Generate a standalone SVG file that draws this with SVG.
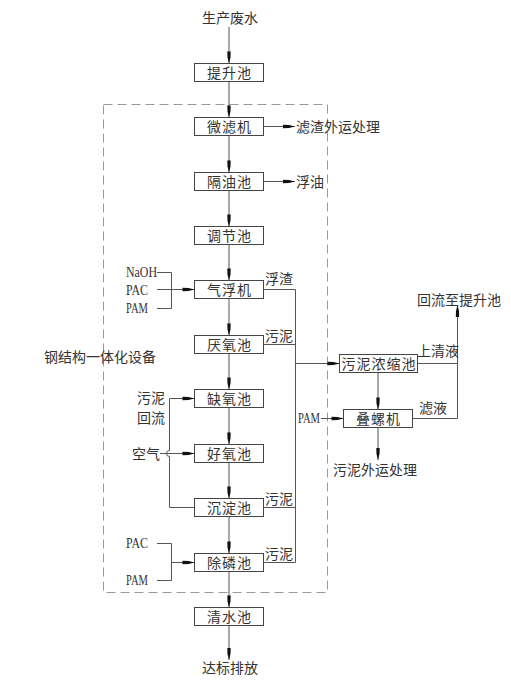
<svg xmlns="http://www.w3.org/2000/svg" width="511" height="682" viewBox="0 0 511 682">
<style>
.box{fill:#fff;stroke:#444;stroke-width:1}
.ln{fill:none;stroke:#555;stroke-width:1}
.ar{marker-end:url(#ah)}
.cj{font-family:"Noto Sans CJK SC","Noto Sans CJK JP",sans-serif;font-size:14px;fill:#333}
.bt{text-anchor:middle;letter-spacing:1px}
.lt{font-family:"Liberation Serif",serif;font-size:14px;fill:#333}
.dash{fill:none;stroke:#999;stroke-width:1;stroke-dasharray:9 5}
</style>
<defs>
<marker id="ah" markerUnits="userSpaceOnUse" markerWidth="14" markerHeight="6" viewBox="-13 -3 14 6" refX="0" refY="0" orient="auto">
<path d="M-12,-1.7 L-6,-1.5 L0,0 L-6,1.5 L-12,1.7 Z" fill="#111"/>
</marker>
</defs>
<rect class="dash" x="103.5" y="104.5" width="224" height="488"/>
<g id="connectors">
<path class="ln ar" d="M229,27 V63.5"/>
<path class="ln ar" d="M229,81.5 V117.5"/>
<path class="ln ar" d="M229,135.5 V172.5"/>
<path class="ln ar" d="M229,190.5 V226.5"/>
<path class="ln ar" d="M229,244.5 V280.5"/>
<path class="ln ar" d="M229,298.5 V335.5"/>
<path class="ln ar" d="M229,353.5 V389.5"/>
<path class="ln ar" d="M229,407.5 V444.5"/>
<path class="ln ar" d="M229,462.5 V498.5"/>
<path class="ln ar" d="M229,516.5 V553.5"/>
<path class="ln ar" d="M229,571.5 V607.5"/>
<path class="ln ar" d="M229,625.5 V660"/>
<path class="ln ar" d="M263.5,126.5 H295"/>
<path class="ln ar" d="M263.5,181.5 H295"/>
<path class="ln" d="M263.5,289.5 H295.5 V562.5 H263.5"/>
<path class="ln" d="M263.5,344.5 H295.5"/>
<path class="ln" d="M263.5,507.5 H295.5"/>
<path class="ln ar" d="M295.5,363.5 H339.5"/>
<path class="ln" d="M417.5,363.5 H457.5"/>
<path class="ln ar" d="M457.5,418.5 V305"/>
<path class="ln" d="M412.5,418.5 H457.5"/>
<path class="ln ar" d="M378,372.5 V409.5"/>
<path class="ln ar" d="M378,427.5 V460"/>
<path class="ln ar" d="M321,418.5 H343.5"/>
<path class="ln" d="M157,272.5 H171.5 V308.5 H157"/>
<path class="ln ar" d="M157,289.5 H194.5"/>
<path class="ln" d="M194.5,507.5 H169.5 V456.5 A3,3 0 0 1 169.5,450.5 V398.5"/>
<path class="ln ar" d="M169.5,398.5 H194.5"/>
<path class="ln ar" d="M160,453.5 H194.5"/>
<path class="ln" d="M157,543.5 H171.5 V580.5 H157"/>
<path class="ln ar" d="M171.5,562.5 H194.5"/>
</g>
<g id="n_tisheng"><rect class="box" x="194.5" y="63.5" width="69" height="18"/><text class="cj bt" x="229.5" y="77.8">提升池</text></g>
<g id="n_weilv"><rect class="box" x="194.5" y="117.5" width="69" height="18"/><text class="cj bt" x="229.5" y="131.8">微滤机</text></g>
<g id="n_geyou"><rect class="box" x="194.5" y="172.5" width="69" height="18"/><text class="cj bt" x="229.5" y="186.8">隔油池</text></g>
<g id="n_tiaojie"><rect class="box" x="194.5" y="226.5" width="69" height="18"/><text class="cj bt" x="229.5" y="240.8">调节池</text></g>
<g id="n_qifu"><rect class="box" x="194.5" y="280.5" width="69" height="18"/><text class="cj bt" x="229.5" y="294.8">气浮机</text></g>
<g id="n_yanyang"><rect class="box" x="194.5" y="335.5" width="69" height="18"/><text class="cj bt" x="229.5" y="349.8">厌氧池</text></g>
<g id="n_queyang"><rect class="box" x="194.5" y="389.5" width="69" height="18"/><text class="cj bt" x="229.5" y="403.8">缺氧池</text></g>
<g id="n_haoyang"><rect class="box" x="194.5" y="444.5" width="69" height="18"/><text class="cj bt" x="229.5" y="458.8">好氧池</text></g>
<g id="n_chendian"><rect class="box" x="194.5" y="498.5" width="69" height="18"/><text class="cj bt" x="229.5" y="512.8">沉淀池</text></g>
<g id="n_chulin"><rect class="box" x="194.5" y="553.5" width="69" height="18"/><text class="cj bt" x="229.5" y="567.8">除磷池</text></g>
<g id="n_qingshui"><rect class="box" x="194.5" y="607.5" width="69" height="18"/><text class="cj bt" x="229.5" y="621.8">清水池</text></g>
<g id="n_nongsuo"><rect class="box" x="339.5" y="354.5" width="78" height="18"/><text class="cj bt" x="379" y="368.8">污泥浓缩池</text></g>
<g id="n_dieluo"><rect class="box" x="343.5" y="409.5" width="69" height="18"/><text class="cj bt" x="378.5" y="423.8">叠螺机</text></g>
<g id="labels">
<text class="cj" x="202" y="23.3">生产废水</text>
<text class="cj" x="202" y="673.3">达标排放</text>
<text class="cj" x="296" y="131.8">滤渣外运处理</text>
<text class="cj" x="296" y="186.8">浮油</text>
<text class="cj" x="265" y="284.3">浮渣</text>
<text class="cj" x="265" y="341.3">污泥</text>
<text class="cj" x="265" y="504.3">污泥</text>
<text class="cj" x="265" y="559.3">污泥</text>
<text class="cj" x="44" y="362.3">钢结构一体化设备</text>
<text class="cj" x="137" y="403">污泥</text>
<text class="cj" x="137" y="423">回流</text>
<text class="cj" x="132" y="458.8">空气</text>
<text class="cj" x="417" y="305.3">回流至提升池</text>
<text class="cj" x="417" y="356.3">上清液</text>
<text class="cj" x="419" y="413.3">滤液</text>
<text class="cj" x="333" y="475.3">污泥外运处理</text>
<text class="lt" x="126" y="277" textLength="31" lengthAdjust="spacingAndGlyphs">NaOH</text>
<text class="lt" x="126" y="295" textLength="22" lengthAdjust="spacingAndGlyphs">PAC</text>
<text class="lt" x="126" y="313" textLength="22" lengthAdjust="spacingAndGlyphs">PAM</text>
<text class="lt" x="126" y="548" textLength="22" lengthAdjust="spacingAndGlyphs">PAC</text>
<text class="lt" x="126" y="585" textLength="22" lengthAdjust="spacingAndGlyphs">PAM</text>
<text class="lt" x="298" y="423" textLength="22" lengthAdjust="spacingAndGlyphs">PAM</text>
</g>
</svg>
